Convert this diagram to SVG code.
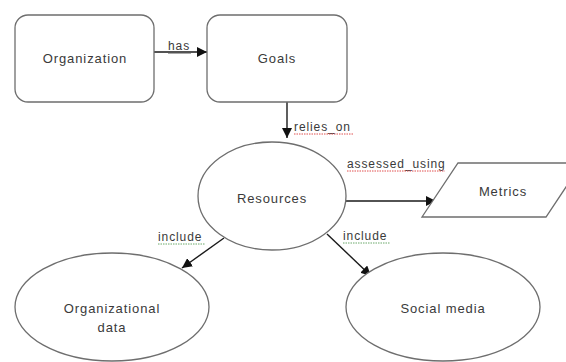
<svg xmlns="http://www.w3.org/2000/svg" width="566" height="362" viewBox="0 0 566 362">
<style>
.shape{fill:#fff;stroke:#6e6e6e;stroke-width:1.3}
.t{font-family:"Liberation Sans",Arial,sans-serif;font-size:13px;letter-spacing:0.9px;fill:#3a3a3a;text-anchor:middle;dominant-baseline:central}
.lbl{font-family:"Liberation Sans",Arial,sans-serif;font-size:12px;letter-spacing:0.9px;fill:#3a3a3a}
.edge{stroke:#1a1a1a;stroke-width:1.4;fill:none;marker-end:url(#ah)}
.ulr{stroke:#e05050;stroke-width:1;stroke-dasharray:1.5 1}
.ulg{stroke:#6aa86a;stroke-width:1;stroke-dasharray:1.5 1}
.ulk{stroke:#555;stroke-width:1}
</style>
<defs>
<marker id="ah" viewBox="0 0 10 10" refX="10" refY="5" markerWidth="10" markerHeight="10" markerUnits="userSpaceOnUse" orient="auto">
<path d="M0,0 L10,5 L0,10 z" fill="#111"/>
</marker>
</defs>
<rect width="566" height="362" fill="#fff"/>
<g id="connectors">
<line class="edge" x1="145" y1="52" x2="207" y2="52"/>
<line class="edge" x1="287" y1="102" x2="287" y2="138"/>
<line class="edge" x1="346" y1="201" x2="436" y2="201"/>
<line class="edge" x1="224" y1="238" x2="182" y2="268"/>
<line class="edge" x1="327" y1="234" x2="371" y2="276"/>
</g>
<g id="labels">
<text class="lbl" x="168" y="50">has</text>
<line class="ulk" x1="168" y1="53" x2="191" y2="53"/>
<text class="lbl" x="294" y="131">relies_on</text>
<line class="ulr" x1="294" y1="134" x2="354" y2="134"/>
<text class="lbl" x="347" y="168">assessed_using</text>
<line class="ulr" x1="347" y1="171" x2="445" y2="171"/>
<text class="lbl" x="158" y="241">include</text>
<line class="ulg" x1="158" y1="244" x2="205" y2="244"/>
<text class="lbl" x="343" y="240">include</text>
<line class="ulg" x1="343" y1="243" x2="390" y2="243"/>
</g>
<g id="organization">
<rect class="shape" x="15" y="15" width="139" height="87" rx="13"/>
<text class="t" x="85" y="58">Organization</text>
</g>
<g id="goals">
<rect class="shape" x="207" y="15" width="140" height="87" rx="13"/>
<text class="t" x="277" y="58">Goals</text>
</g>
<g id="resources">
<ellipse class="shape" cx="272" cy="196" rx="74" ry="54"/>
<text class="t" x="272" y="198">Resources</text>
</g>
<g id="metrics">
<polygon class="shape" points="458,163 582,163 546,217 422,217"/>
<text class="t" x="503" y="191">Metrics</text>
</g>
<g id="organizational-data">
<ellipse class="shape" cx="112" cy="307" rx="97" ry="54"/>
<text class="t" x="112" y="308">Organizational</text>
<text class="t" x="112" y="327">data</text>
</g>
<g id="social-media">
<ellipse class="shape" cx="443" cy="307" rx="97" ry="54"/>
<text class="t" x="443" y="308">Social media</text>
</g>
</svg>
